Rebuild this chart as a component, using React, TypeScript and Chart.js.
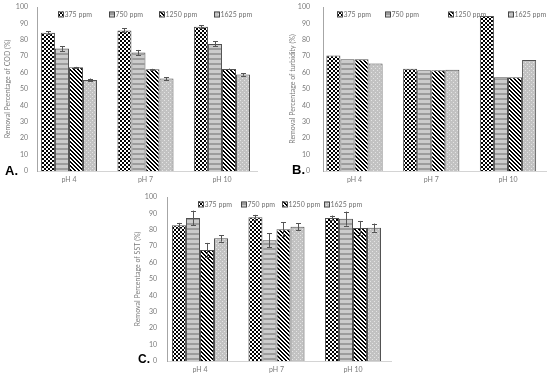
import React, { useEffect, useRef } from "react";
import { Chart, registerables } from "chart.js";

Chart.register(...registerables);

const categories = ["pH 4", "pH 7", "pH 10"];
const seriesNames = ["375 ppm", "750 ppm", "1250 ppm", "1625 ppm"];
const yTicks = [0, 10, 20, 30, 40, 50, 60, 70, 80, 90, 100];

// A. COD
const cod375 = [84.3, 85.7, 87.9];
const cod750 = [74.7, 72.3, 77.5];
const cod1250 = [63.2, 62.0, 62.2];
const cod1625 = [55.5, 56.4, 58.9];
const codErr375 = [0.8, 1.2, 0.9];
const codErr750 = [1.5, 1.5, 1.5];
const codErr1250 = [0.3, 0.3, 0.3];
const codErr1625 = [0.9, 0.9, 0.8];

// B. turbidity
const turb375 = [70.5, 62.3, 94.5];
const turb750 = [68.1, 61.4, 57.2];
const turb1250 = [68.2, 61.4, 57.2];
const turb1625 = [65.6, 61.8, 67.7];

// C. SST
const sst375 = [82.7, 87.6, 87.2];
const sst750 = [87.2, 73.6, 86.8];
const sst1250 = [67.7, 80.3, 81.1];
const sst1625 = [74.8, 81.9, 81.3];
const sstErr375 = [1.5, 1.5, 1.5];
const sstErr750 = [4.5, 4.2, 4.3];
const sstErr1250 = [4.3, 4.2, 4.3];
const sstErr1625 = [2.0, 2.1, 2.5];

function makePattern(kind: number): CanvasPattern | string {
  const c = document.createElement("canvas");
  const n = kind === 1 ? 5 : 4;
  c.width = kind === 1 ? 1 : n;
  c.height = n;
  const ctx = c.getContext("2d");
  if (!ctx) return "#ccc";
  for (let y = 0; y < c.height; y++) {
    for (let x = 0; x < c.width; x++) {
      let col = "#ffffff";
      if (kind === 0) {
        col = (Math.floor(x / 2) + Math.floor(y / 2)) % 2 === 0 ? "#000000" : "#ffffff";
      } else if (kind === 1) {
        col = y < 3 ? "#cbcbcb" : "#9c9c9c";
      } else if (kind === 2) {
        col = ((x - y + 8) % 4) < 2 ? "#000000" : "#ffffff";
      } else {
        col = (x === 0 && y === 0) || (x === 2 && y === 2) ? "#e4e4e4" : "#c2c2c2";
      }
      ctx.fillStyle = col;
      ctx.fillRect(x, y, 1, 1);
    }
  }
  const p = ctx.createPattern(c, "repeat");
  return p || "#ccc";
}

const decorPlugin = {
  id: "decor",
  afterDatasetsDraw(chart: any, _args: any, opts: any) {
    const ctx = chart.ctx;
    const errs = opts.errors;
    const ys = chart.scales.y;
    if (errs) {
      chart.data.datasets.forEach((ds: any, di: number) => {
        const meta = chart.getDatasetMeta(di);
        meta.data.forEach((el: any, i: number) => {
          const e = errs[di] ? errs[di][i] : 0;
          if (!e) return;
          const v = ds.data[i].y;
          const yt = ys.getPixelForValue(v + e);
          const yb = ys.getPixelForValue(v - e);
          const x = Math.round(el.x) + 0.5;
          ctx.save();
          ctx.strokeStyle = "#555555";
          ctx.lineWidth = 1;
          ctx.beginPath();
          ctx.moveTo(x, yt);
          ctx.lineTo(x, yb);
          ctx.moveTo(x - 2.5, Math.round(yt) + 0.5);
          ctx.lineTo(x + 2.5, Math.round(yt) + 0.5);
          ctx.moveTo(x - 2.5, Math.round(yb) + 0.5);
          ctx.lineTo(x + 2.5, Math.round(yb) + 0.5);
          ctx.stroke();
          ctx.restore();
        });
      });
    }
  },
  afterDraw(chart: any, _args: any, opts: any) {
    const ctx = chart.ctx;
    const xs = opts.legendX || [];
    const ly = opts.legendY || 14;
    ctx.save();
    chart.data.datasets.forEach((ds: any, di: number) => {
      const x = xs[di];
      if (x === undefined) return;
      ctx.fillStyle = ds.backgroundColor;
      ctx.fillRect(x, ly - 2.5, 5, 5);
      ctx.strokeStyle = "#444";
      ctx.lineWidth = 1;
      ctx.strokeRect(x + 0.5, ly - 2.5 + 0.5, 5, 5);
      ctx.fillStyle = "#707070";
      ctx.font = '7px "Lato"';
      ctx.textBaseline = "middle";
      ctx.textAlign = "left";
      ctx.fillText(ds.label, x + 6.5, ly + 0.5);
    });
    if (opts.panel) {
      ctx.fillStyle = "#000000";
      ctx.font = 'bold ' + (opts.panelSize || 13) + 'px "Liberation Sans"';
      ctx.textBaseline = "alphabetic";
      ctx.textAlign = "left";
      ctx.fillText(opts.panel, opts.panelX, opts.panelY);
    }
    ctx.restore();
  },
};

type PanelProps = {
  left: number;
  top: number;
  width: number;
  height: number;
  series: number[][];
  errors?: number[][];
  title: string;
  yAxisWidth: number;
  padLeft: number;
  padTop: number;
  padRight: number;
  xAxisHeight: number;
  tickPad: number;
  xMin: number;
  xMax: number;
  legendX: number[];
  legendY: number;
  panel: string;
  panelX: number;
  panelY: number;
  panelSize: number;
};

function Panel(p: PanelProps) {
  const ref = useRef<HTMLCanvasElement | null>(null);
  useEffect(() => {
    if (!ref.current) return;
    const datasets = p.series.map((vals, si) => ({
      label: seriesNames[si],
      data: vals.map((v, i) => ({ x: i, y: v })),
      backgroundColor: makePattern(si) as any,
      borderColor: "#505050",
      borderWidth: 1,
      categoryPercentage: 0.733,
      barPercentage: 1.0,
    }));
    const chart = new Chart(ref.current, {
      type: "bar",
      data: { datasets },
      plugins: [decorPlugin as any],
      options: {
        responsive: false,
        animation: false,
        events: [],
        layout: { padding: { left: p.padLeft, top: p.padTop, right: p.padRight, bottom: 0 } },
        plugins: {
          legend: { display: false },
          tooltip: { enabled: false },
          decor: {
            errors: p.errors,
            legendX: p.legendX,
            legendY: p.legendY,
            panel: p.panel,
            panelX: p.panelX,
            panelY: p.panelY,
            panelSize: p.panelSize,
          },
        } as any,
        scales: {
          x: {
            type: "linear",
            min: p.xMin,
            max: p.xMax,
            offset: false,
            grid: { display: false, drawTicks: false, offset: false },
            border: { display: true, color: "#d4d4d4", width: 1 },
            afterFit: (s: any) => {
              s.height = p.xAxisHeight;
              s.paddingLeft = 0;
              s.paddingRight = 0;
            },
            ticks: {
              stepSize: 1,
              includeBounds: false,
              autoSkip: false,
              maxRotation: 0,
              padding: 5,
              color: "#7a7a7a",
              font: { family: "Lato", size: 7 },
              callback: (v: any) => {
                const i = Number(v);
                return Number.isInteger(i) && categories[i] ? categories[i] : "";
              },
            },
          },
          y: {
            min: 0,
            max: 100,
            afterFit: (s: any) => {
              s.width = p.yAxisWidth;
              s.paddingTop = 0;
              s.paddingBottom = 0;
            },
            afterBuildTicks: (s: any) => {
              s.ticks = yTicks.map((v) => ({ value: v }));
            },
            grid: { display: false, drawTicks: false },
            border: { display: true, color: "#a6a6a6", width: 1 },
            ticks: {
              autoSkip: false,
              padding: p.tickPad,
              color: "#7a7a7a",
              font: { family: "Lato", size: 7 },
            },
            title: {
              display: true,
              text: p.title,
              color: "#7a7a7a",
              font: { family: "Lato", size: 7 },
              padding: { top: 4, bottom: 0 },
            },
          },
        },
      } as any,
    });
    return () => chart.destroy();
  }, []);
  return (
    <canvas
      ref={ref}
      width={p.width}
      height={p.height}
      style={{ position: "absolute", left: p.left, top: p.top, width: p.width, height: p.height }}
    />
  );
}

export default function App() {
  return (
    <div style={{ position: "absolute", left: 0, top: 0, width: 550, height: 378, background: "#fff", overflow: "hidden" }}>
      <Panel
        left={0}
        top={0}
        width={275}
        height={188}
        series={[cod375, cod750, cod1250, cod1625]}
        errors={[codErr375, codErr750, codErr1250, codErr1625]}
        title="Removal Percentage of COD (%)"
        yAxisWidth={37}
        padLeft={0}
        padTop={7}
        padRight={18}
        xAxisHeight={17}
        tickPad={9}
        xMin={-0.418}
        xMax={2.458}
        legendX={[58, 109, 159, 214]}
        legendY={14}
        panel="A."
        panelX={5}
        panelY={175}
        panelSize={13}
      />
      <Panel
        left={275}
        top={0}
        width={275}
        height={188}
        series={[turb375, turb750, turb1250, turb1625]}
        title="Removal Percentage of turbidity (%)"
        yAxisWidth={38}
        padLeft={10}
        padTop={7}
        padRight={4}
        xAxisHeight={17}
        tickPad={13}
        xMin={-0.41}
        xMax={2.495}
        legendX={[62, 110, 173, 233]}
        legendY={14}
        panel="B."
        panelX={17}
        panelY={174}
        panelSize={13}
      />
      <Panel
        left={130}
        top={185}
        width={290}
        height={193}
        series={[sst375, sst750, sst1250, sst1625]}
        errors={[sstErr375, sstErr750, sstErr1250, sstErr1625]}
        title="Removal Percentage of SST (%)"
        yAxisWidth={37}
        padLeft={0}
        padTop={12}
        padRight={29}
        xAxisHeight={17}
        tickPad={10}
        xMin={-0.431}
        xMax={2.497}
        legendX={[68, 111, 152, 194]}
        legendY={19}
        panel="C."
        panelX={8}
        panelY={178}
        panelSize={12}
      />
    </div>
  );
}
